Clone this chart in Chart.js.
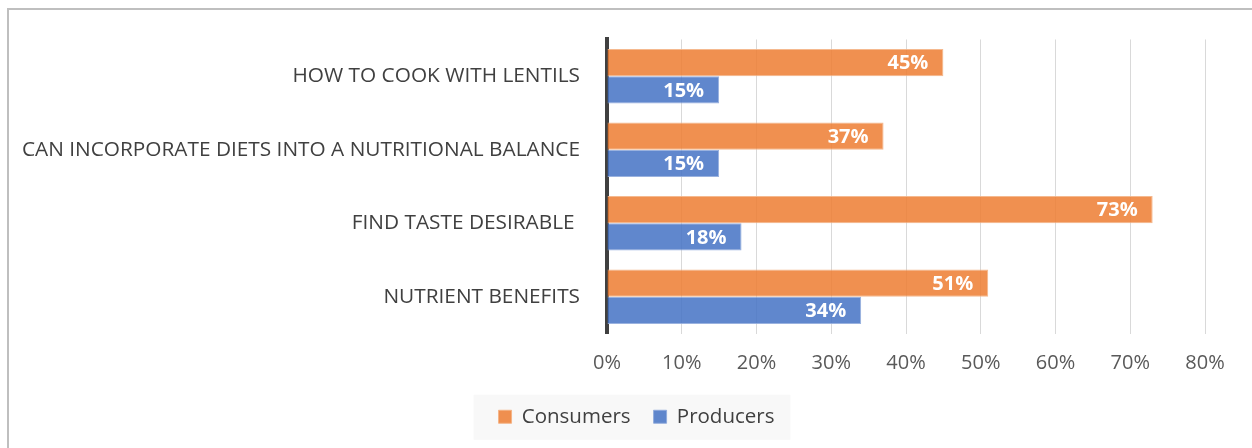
<!DOCTYPE html>
<html>
<head>
<meta charset="utf-8">
<script src="https://cdn.jsdelivr.net/npm/chart.js@4"></script>
<style>
  html, body { margin: 0; padding: 0; background: #fff; }
  #wrap { width: 1252px; height: 448px; position: relative; }
</style>
</head>
<body>
<div id="wrap"><canvas id="chart" width="1252" height="448"></canvas></div>
<script>
// ── Data ──────────────────────────────────────────────────────
const categories = [
  'HOW TO COOK WITH LENTILS',
  'CAN INCORPORATE DIETS INTO A NUTRITIONAL BALANCE',
  'FIND TASTE DESIRABLE ',
  'NUTRIENT BENEFITS',
];
const consumers = [45, 37, 73, 51];
const producers = [15, 15, 18, 34];
const xTicks = [0, 10, 20, 30, 40, 50, 60, 70, 80];

const FONT = "'Open Sans', 'Noto Sans', sans-serif";
const TEXT = '#404040';
const LEGEND_SHIFT = 34;

// Outer frame lines (box runs off the right and bottom edges)
// plus the light grey panel behind the legend
const backdropPlugin = {
  id: 'backdrop',
  afterUpdate(chart) {
    // nudge the legend so it sits centred under the whole frame
    const lg = chart.legend;
    if (!lg) return;
    lg.left += LEGEND_SHIFT;
    lg.right += LEGEND_SHIFT;
    lg.legendHitBoxes.forEach(b => { b.left += LEGEND_SHIFT; });
  },
  beforeDraw(chart) {
    const { ctx } = chart;
    ctx.save();
    ctx.fillStyle = '#fff';
    ctx.fillRect(0, 0, chart.width, chart.height);
    ctx.strokeStyle = '#BFBFBF';
    ctx.lineWidth = 2;
    ctx.beginPath();
    ctx.moveTo(8, chart.height);
    ctx.lineTo(8, 9);
    ctx.lineTo(chart.width, 9);
    ctx.stroke();

    const boxes = chart.legend && chart.legend.legendHitBoxes;
    if (boxes && boxes.length) {
      const left = Math.min(...boxes.map(b => b.left)) - 25;
      const right = Math.max(...boxes.map(b => b.left + b.width)) + 16;
      const mid = boxes[0].top + boxes[0].height / 2;
      ctx.fillStyle = '#F8F8F8';
      ctx.fillRect(left, mid - 22, right - left, 45);
    }
    ctx.restore();
  },
};

// Value labels drawn inside the bar ends
const valueLabelPlugin = {
  id: 'valueLabels',
  afterDatasetsDraw(chart) {
    const { ctx } = chart;
    ctx.save();
    ctx.font = `bold 20px ${FONT}`;
    ctx.fillStyle = '#fff';
    ctx.textAlign = 'right';
    ctx.textBaseline = 'middle';
    chart.data.datasets.forEach((ds, i) => {
      chart.getDatasetMeta(i).data.forEach((bar, j) => {
        ctx.fillText(ds.data[j] + '%', bar.x - 15, bar.y + 1);
      });
    });
    ctx.restore();
  },
};

new Chart(document.getElementById('chart'), {
  type: 'bar',
  data: {
    labels: categories,
    datasets: [
      {
        label: 'Consumers',
        data: consumers,
        backgroundColor: 'rgba(237, 125, 49, 0.85)',
        borderColor: 'rgba(244, 177, 131, 0.9)',
        borderWidth: 1,
        borderSkipped: 'start',
        categoryPercentage: 0.74,
        barPercentage: 1,
      },
      {
        label: 'Producers',
        data: producers,
        backgroundColor: 'rgba(68, 114, 196, 0.85)',
        borderColor: 'rgba(143, 170, 220, 0.9)',
        borderWidth: 1,
        borderSkipped: 'start',
        categoryPercentage: 0.74,
        barPercentage: 1,
      },
    ],
  },
  options: {
    indexAxis: 'y',
    responsive: false,
    animation: false,
    layout: { padding: { top: 37, right: 47, left: 0, bottom: 11 } },
    plugins: {
      legend: {
        position: 'bottom',
        labels: {
          color: TEXT,
          font: { family: FONT, size: 20.5 },
          boxWidth: 13,
          boxHeight: 13,
          padding: 23,
          generateLabels(chart) {
            return chart.data.datasets.map((ds, i) => ({
              text: ds.label,
              fillStyle: ds.backgroundColor,
              strokeStyle: ds.borderColor,
              lineWidth: 1,
              fontColor: TEXT,
              datasetIndex: i,
            }));
          },
        },
      },
      tooltip: { enabled: false },
    },
    scales: {
      x: {
        min: 0,
        max: 80,
        afterBuildTicks(scale) { scale.ticks = xTicks.map(v => ({ value: v })); },
        grid: { color: '#D9D9D9', drawTicks: false },
        border: { display: false },
        ticks: {
          color: '#595959',
          font: { family: FONT, size: 20 },
          padding: 18,
          callback: v => v + '%',
        },
        afterFit(scale) { scale.height = 50; },
      },
      y: {
        grid: { display: false, drawTicks: false },
        border: { color: '#404040', width: 4 },
        ticks: {
          color: TEXT,
          font: { family: FONT, size: 20.8 },
          padding: 27,
        },
        afterFit(scale) { scale.width = 607; },
      },
    },
  },
  plugins: [backdropPlugin, valueLabelPlugin],
});
</script>
</body>
</html>
